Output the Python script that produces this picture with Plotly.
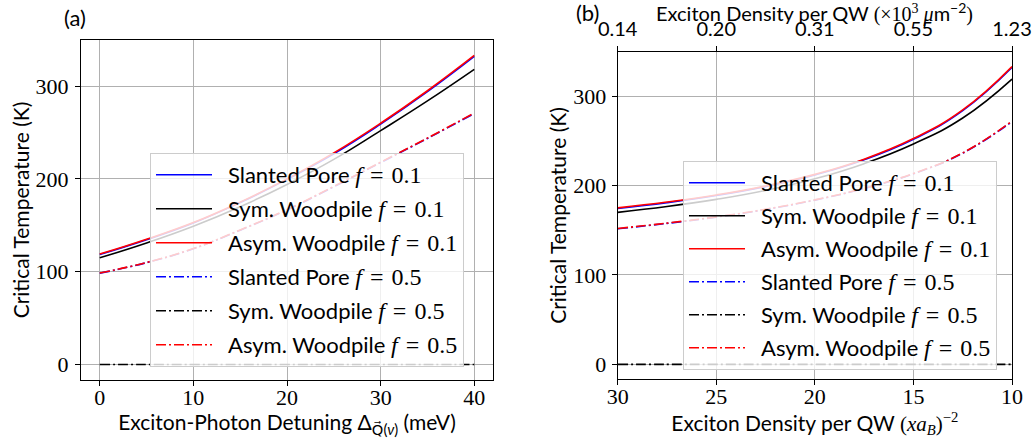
import plotly.graph_objects as go

# ---- data -------------------------------------------------------------
# (a) critical temperature vs exciton-photon detuning (meV)
detuning = [0, 5, 10, 15, 20, 25, 30, 35, 40]
tc_a_slanted_01 = [118.5, 134.5, 152.5, 174.5, 199.5, 227, 259, 294, 332]
tc_a_sym_01 = [115, 131, 149, 170, 194, 221, 252, 284, 318]
tc_a_asym_01 = [119, 135, 153, 175, 200, 228, 260, 295, 333]
tc_a_slanted_05 = [98.4, 109.8, 124.8, 144.8, 166.6, 191.6, 217.6, 243.6, 270.5]
tc_a_sym_05 = [0, 0, 0, 0, 0, 0, 0, 0, 0]
tc_a_asym_05 = [98.6, 110, 125, 145, 167, 192, 218, 244, 271]

# (b) critical temperature vs exciton density per QW, (x a_B)^-2
density = [30, 27.5, 25, 22.5, 20, 17.5, 15, 12.5, 10]
tc_b_slanted_01 = [174.3, 180.8, 188.8, 198.8, 211.8, 228.8, 251.7, 283.7, 332]
tc_b_sym_01 = [170, 176.5, 184.5, 194.5, 207.5, 224.5, 246.5, 275.5, 319]
tc_b_asym_01 = [175, 181.5, 189.5, 199.5, 212.5, 229.5, 252.5, 284.5, 333]
tc_b_slanted_05 = [151.7, 157.7, 164.7, 173.2, 183.7, 196.7, 213.2, 236.2, 271.6]
tc_b_sym_05 = [0, 0, 0, 0, 0, 0, 0, 0, 0]
tc_b_asym_05 = [152, 158, 165, 173.5, 184, 197, 213.5, 236.5, 272]

# top axis of (b): density in units of 10^3 um^-2
top_tick_pos = [30, 25, 20, 15, 10]
top_tick_text = ["0.14", "0.20", "0.31", "0.55", "1.23"]

y_ticks = [0, 100, 200, 300]

# ---- style --------------------------------------------------------------
SANS = "Lato"
SERIF = "Liberation Serif"
DASHDOT = "10px,3px,2px,3px"
LW = 1.6
W, H = 1035, 448


def flabel(name, fval):
    return (f"\u2002{name} <span style='font-family:Liberation Serif;font-size:24px'>"
            f"<i>f</i>\u2004=\u2004{fval}</span>")


series_a = [
    ("Slanted Pore", "0.1", tc_a_slanted_01, "#0000ff", "solid"),
    ("Sym. Woodpile", "0.1", tc_a_sym_01, "#000000", "solid"),
    ("Asym. Woodpile", "0.1", tc_a_asym_01, "#ff0000", "solid"),
    ("Slanted Pore", "0.5", tc_a_slanted_05, "#0000ff", DASHDOT),
    ("Sym. Woodpile", "0.5", tc_a_sym_05, "#000000", DASHDOT),
    ("Asym. Woodpile", "0.5", tc_a_asym_05, "#ff0000", DASHDOT),
]
series_b = [
    ("Slanted Pore", "0.1", tc_b_slanted_01, "#0000ff", "solid"),
    ("Sym. Woodpile", "0.1", tc_b_sym_01, "#000000", "solid"),
    ("Asym. Woodpile", "0.1", tc_b_asym_01, "#ff0000", "solid"),
    ("Slanted Pore", "0.5", tc_b_slanted_05, "#0000ff", DASHDOT),
    ("Sym. Woodpile", "0.5", tc_b_sym_05, "#000000", DASHDOT),
    ("Asym. Woodpile", "0.5", tc_b_asym_05, "#ff0000", DASHDOT),
]

fig = go.Figure()

for i, (name, fval, ys, col, dash) in enumerate(series_a):
    fig.add_trace(go.Scatter(
        x=detuning, y=ys, mode="lines", name=flabel(name, fval),
        line=dict(color=col, width=LW, dash=dash, shape="spline", smoothing=1.3),
        xaxis="x", yaxis="y", legend="legend", legendgroup=f"a{i}",
    ))

for i, (name, fval, ys, col, dash) in enumerate(series_b):
    fig.add_trace(go.Scatter(
        x=density, y=ys, mode="lines", name=flabel(name, fval),
        line=dict(color=col, width=LW, dash=dash, shape="spline", smoothing=1.3),
        xaxis="x2", yaxis="y2", legend="legend2", legendgroup=f"b{i}",
    ))

# carrier trace so the top density axis is drawn
fig.add_trace(go.Scatter(
    x=top_tick_pos, y=[None] * len(top_tick_pos), mode="lines",
    xaxis="x3", yaxis="y2", showlegend=False, hoverinfo="skip",
))

all_a = tc_a_slanted_01 + tc_a_sym_01 + tc_a_asym_01 + tc_a_slanted_05 + tc_a_sym_05 + tc_a_asym_05
all_b = tc_b_slanted_01 + tc_b_sym_01 + tc_b_asym_01 + tc_b_slanted_05 + tc_b_sym_05 + tc_b_asym_05
pad_a = 0.05 * (max(all_a) - min(all_a))
pad_b = 0.05 * (max(all_b) - min(all_b))
pad_x = 0.05 * (max(detuning) - min(detuning))

axis_common = dict(
    automargin=False,
    showline=True, linecolor="black", linewidth=1.2, mirror=True,
    ticks="outside", ticklen=5, tickwidth=1.1, tickcolor="black",
    showgrid=True, gridcolor="#b0b0b0", gridwidth=0.9, zeroline=False,
    tickfont=dict(family=SERIF, size=22, color="black"),
)

fig.update_layout(
    template="none",
    width=W, height=H,
    margin=dict(l=0, r=0, t=0, b=0, pad=0),
    plot_bgcolor="white", paper_bgcolor="white",
    font=dict(family=SANS, color="black", size=21),
    xaxis=dict(
        domain=[81 / W, 493 / W], anchor="y",
        range=[min(detuning) - pad_x, max(detuning) + pad_x],
        tickvals=[0, 10, 20, 30, 40], ticklabelstandoff=-8,
        title=dict(text="Exciton-Photon Detuning Δ<sub><span style='font-family:DejaVu Sans'>Q⃗</span>(<i>ν</i>)</sub> (meV)",
                   font=dict(family=SANS, size=21), standoff=4),
        **axis_common,
    ),
    yaxis=dict(
        domain=[1 - 380 / H, 1 - 40 / H], anchor="x",
        range=[min(all_a) - pad_a, max(all_a) + pad_a],
        tickvals=y_ticks, ticklabelstandoff=2,
        title=dict(text="Critical Temperature (K)", font=dict(family=SANS, size=21), standoff=0),
        **axis_common,
    ),
    xaxis2=dict(
        domain=[617.7 / W, 1012 / W], anchor="y2",
        range=[max(density), min(density)],
        tickvals=top_tick_pos, ticklabelstandoff=-8,
        title=dict(text="Exciton Density per QW <span style='font-family:Liberation Serif'>(<i>xa</i><sub><i>B</i></sub>)<sup>−2</sup></span>",
                   font=dict(family=SANS, size=21), standoff=4),
        **axis_common,
    ),
    xaxis3=dict(
        automargin=False,
        overlaying="x2", anchor="y2", side="top",
        range=[max(density), min(density)],
        tickvals=top_tick_pos, ticktext=top_tick_text,
        showline=False, ticks="outside", ticklen=5, tickwidth=1.1, tickcolor="black",
        ticklabelstandoff=2,
        showgrid=False, zeroline=False,
        tickfont=dict(family=SANS, size=20, color="black"),
    ),
    yaxis2=dict(
        domain=[1 - 379.3 / H, 1 - 51.7 / H], anchor="x2",
        range=[min(all_b) - pad_b, max(all_b) + pad_b],
        tickvals=y_ticks, ticklabelstandoff=1,
        title=dict(text="Critical Temperature (K)", font=dict(family=SANS, size=21), standoff=0),
        **axis_common,
    ),
    legend=dict(
        x=150 / W, y=1 - 153 / H, xanchor="left", yanchor="top",
        bgcolor="rgba(255,255,255,0.8)", bordercolor="#cccccc", borderwidth=1,
        font=dict(family=SANS, size=22, color="black"),
        tracegroupgap=2.4, itemwidth=56, traceorder="grouped",
    ),
    legend2=dict(
        x=683 / W, y=1 - 161 / H, xanchor="left", yanchor="top",
        bgcolor="rgba(255,255,255,0.8)", bordercolor="#cccccc", borderwidth=1,
        font=dict(family=SANS, size=22, color="black"),
        tracegroupgap=1.4, itemwidth=56, traceorder="grouped",
    ),
    annotations=[
        dict(text="(a)", x=75 / W, y=1 - 17 / H, xref="paper", yref="paper",
             xanchor="center", yanchor="middle",
             showarrow=False, font=dict(family=SANS, size=22)),
        dict(text="(b)", x=587 / W, y=1 - 13 / H, xref="paper", yref="paper",
             xanchor="center", yanchor="middle",
             showarrow=False, font=dict(family=SANS, size=22)),
        # top-axis title of (b)
        dict(text="Exciton Density per QW <span style='font-family:Liberation Serif'>(×10<sup>3</sup> <i>μ</i></span>m<sup>−2</sup><span style='font-family:Liberation Serif'>)</span>",
             x=(617.7 + 1012) / 2 / W, y=1, xref="paper", yref="paper",
             xanchor="center", yanchor="top", borderpad=0, yshift=2,
             showarrow=False, font=dict(family=SANS, size=20)),
    ],
)

fig.write_html("out.html")
